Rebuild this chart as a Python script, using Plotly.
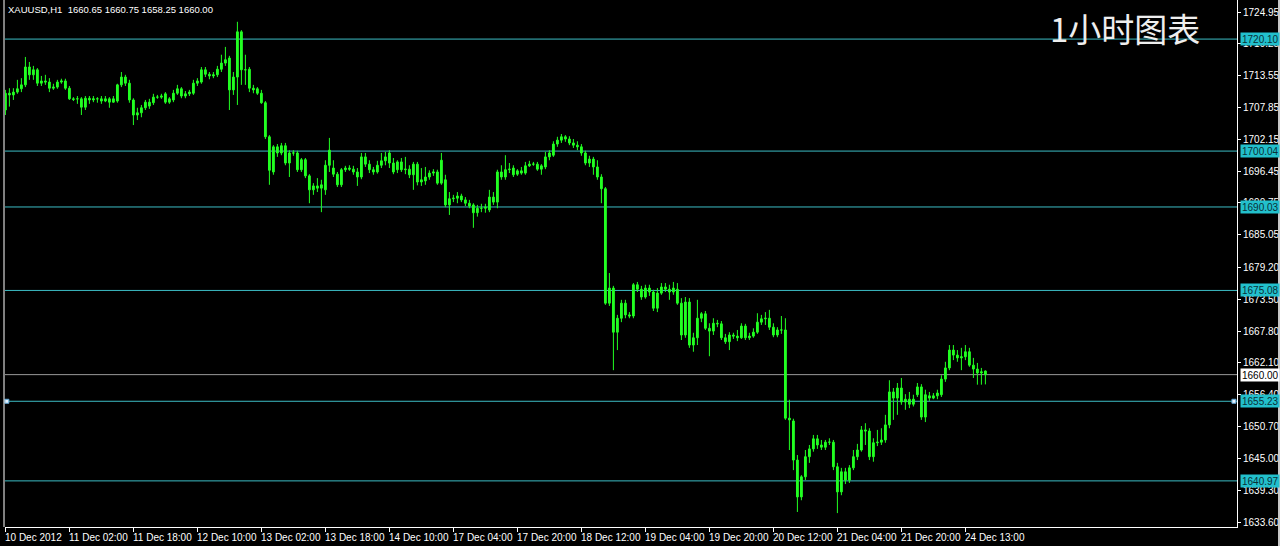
import plotly.graph_objects as go

# ---------------- DATA ----------------
symbol_title = "XAUUSD,H1\u00a0 1660.65 1660.75 1658.25 1660.00"
chart_caption = "1小时图表"

opens = [
    1707.4, 1710.4, 1710.1, 1710.6, 1711.2, 1711.9, 1715.1, 1713.7, 1714.6, 1712.2,
    1712.6, 1712.4, 1711.3, 1711.5, 1712.4, 1712.6, 1711.3, 1709.4, 1709.4, 1709.4,
    1707.9, 1709.5, 1709.2, 1709.4, 1709.4, 1709.0, 1709.4, 1708.8, 1709.0, 1711.9,
    1713.3, 1712.2, 1709.2, 1706.5, 1706.9, 1707.8, 1708.1, 1708.7, 1709.7, 1709.7,
    1710.3, 1708.8, 1709.2, 1710.4, 1711.2, 1709.9, 1710.3, 1710.4, 1712.2, 1712.4,
    1714.6, 1713.8, 1713.5, 1713.7, 1714.7, 1715.8, 1716.7, 1711.0, 1713.3, 1721.4,
    1714.6, 1714.7, 1711.3, 1711.2, 1710.4, 1708.7, 1702.6, 1696.3, 1700.8, 1699.7,
    1701.0, 1697.9, 1699.7, 1699.7, 1696.7, 1698.5, 1695.6, 1693.1, 1693.8, 1693.4,
    1693.1, 1697.5, 1697.0, 1695.9, 1694.0, 1696.7, 1697.0, 1696.8, 1696.3, 1695.4,
    1699.0, 1697.7, 1696.7, 1696.3, 1697.5, 1698.3, 1699.7, 1697.9, 1696.7, 1698.1,
    1696.7, 1696.8, 1695.8, 1697.7, 1694.5, 1694.7, 1695.4, 1696.1, 1696.3, 1694.3,
    1694.9, 1690.4, 1691.5, 1691.6, 1692.0, 1691.3, 1690.7, 1690.4, 1689.0, 1689.8,
    1689.8, 1689.5, 1691.8, 1690.9, 1696.3, 1695.4, 1696.7, 1697.0, 1695.9, 1696.5,
    1696.1, 1697.4, 1697.7, 1697.7, 1696.8, 1697.2, 1699.0, 1699.3, 1701.3, 1702.0,
    1702.6, 1702.2, 1701.5, 1701.1, 1700.8, 1699.7, 1697.9, 1698.6, 1697.2, 1695.4,
    1693.3, 1672.8, 1675.5, 1667.6, 1670.1, 1672.8, 1670.7, 1670.5, 1676.1, 1675.3,
    1673.9, 1675.5, 1674.8, 1671.9, 1674.6, 1675.7, 1675.3, 1674.8, 1675.3, 1672.8,
    1667.1, 1673.0, 1665.3, 1666.6, 1670.1, 1670.9, 1668.3, 1667.8, 1669.2, 1669.1,
    1666.6, 1665.9, 1667.1, 1666.9, 1666.6, 1668.7, 1666.6, 1666.9, 1667.6, 1669.4,
    1670.0, 1670.1, 1668.5, 1667.1, 1668.0, 1668.0, 1652.2, 1651.7, 1644.7, 1638.1,
    1641.7, 1645.3, 1646.7, 1648.5, 1647.4, 1647.0, 1647.9, 1647.9, 1643.5, 1639.0,
    1642.6, 1641.1, 1643.3, 1645.3, 1646.5, 1650.1, 1649.9, 1645.3, 1647.8, 1647.9,
    1648.3, 1651.0, 1656.9, 1655.8, 1657.6, 1655.1, 1655.6, 1654.7, 1656.4, 1657.8,
    1652.4, 1656.2, 1655.8, 1656.2, 1656.4, 1659.2, 1661.2, 1664.4, 1663.5, 1663.0,
    1663.2, 1664.1, 1661.7, 1661.0, 1660.3, 1660.65,
]

highs = [
    1711.0, 1711.3, 1711.3, 1712.8, 1713.1, 1716.9, 1716.0, 1715.3, 1714.9, 1713.5,
    1713.7, 1713.1, 1712.1, 1712.8, 1713.0, 1713.0, 1711.7, 1709.7, 1709.9, 1709.7,
    1709.9, 1709.9, 1709.9, 1709.7, 1709.9, 1709.9, 1709.7, 1709.9, 1712.1, 1714.2,
    1713.7, 1712.8, 1709.5, 1707.8, 1708.3, 1709.2, 1709.4, 1710.3, 1710.1, 1710.3,
    1710.6, 1709.7, 1711.0, 1711.9, 1711.5, 1710.8, 1711.0, 1712.8, 1713.1, 1715.1,
    1715.1, 1714.2, 1714.2, 1715.3, 1717.3, 1718.7, 1717.1, 1714.2, 1723.2, 1721.7,
    1717.3, 1715.1, 1711.9, 1711.5, 1711.0, 1709.0, 1702.9, 1701.1, 1701.3, 1701.5,
    1701.5, 1700.2, 1700.2, 1700.1, 1698.8, 1698.8, 1695.9, 1694.3, 1695.2, 1694.9,
    1698.4, 1702.4, 1698.4, 1696.3, 1697.0, 1697.4, 1697.5, 1697.4, 1697.0, 1699.7,
    1699.7, 1698.4, 1697.2, 1698.3, 1699.7, 1699.9, 1700.2, 1698.8, 1698.4, 1698.8,
    1699.0, 1697.5, 1698.1, 1698.1, 1697.0, 1697.2, 1696.6, 1696.8, 1696.7, 1699.7,
    1695.8, 1692.7, 1692.2, 1692.7, 1692.4, 1691.8, 1691.3, 1690.7, 1690.4, 1690.6,
    1690.6, 1693.1, 1692.7, 1696.7, 1697.5, 1699.3, 1697.9, 1697.5, 1696.8, 1697.2,
    1698.1, 1698.3, 1698.1, 1698.1, 1697.7, 1699.9, 1700.2, 1701.8, 1702.6, 1703.1,
    1702.9, 1702.7, 1702.2, 1701.8, 1701.3, 1700.1, 1699.2, 1699.0, 1698.4, 1695.9,
    1693.6, 1678.2, 1675.9, 1670.7, 1673.4, 1673.4, 1671.2, 1676.4, 1676.6, 1675.9,
    1676.1, 1676.1, 1675.2, 1675.5, 1676.4, 1676.4, 1676.1, 1676.6, 1676.4, 1673.7,
    1673.9, 1673.7, 1667.5, 1673.4, 1671.2, 1671.4, 1669.2, 1670.1, 1669.8, 1669.6,
    1667.3, 1667.6, 1667.5, 1668.0, 1669.2, 1669.1, 1667.5, 1668.3, 1671.0, 1670.7,
    1671.2, 1671.6, 1669.2, 1668.5, 1670.5, 1670.1, 1655.5, 1652.1, 1645.6, 1642.0,
    1646.5, 1647.4, 1649.2, 1649.2, 1648.3, 1648.3, 1648.6, 1648.3, 1644.2, 1643.3,
    1643.3, 1643.8, 1646.5, 1647.6, 1650.8, 1651.3, 1650.4, 1648.6, 1650.1, 1650.4,
    1652.8, 1659.0, 1657.6, 1658.5, 1659.4, 1656.5, 1656.9, 1656.4, 1658.5, 1658.3,
    1657.3, 1656.9, 1656.7, 1657.3, 1659.9, 1662.3, 1665.3, 1665.3, 1664.4, 1664.8,
    1665.3, 1664.8, 1663.0, 1662.1, 1661.2, 1660.75,
]

lows = [
    1706.5, 1708.0, 1709.2, 1710.3, 1710.6, 1711.5, 1712.8, 1712.8, 1711.7, 1711.7,
    1711.9, 1710.6, 1711.0, 1711.2, 1712.1, 1711.0, 1709.2, 1709.0, 1708.5, 1706.5,
    1707.4, 1708.5, 1708.8, 1708.7, 1708.5, 1708.8, 1707.8, 1708.7, 1708.7, 1711.5,
    1711.7, 1708.7, 1704.7, 1705.6, 1706.1, 1707.4, 1707.6, 1708.3, 1709.4, 1709.4,
    1708.5, 1708.5, 1708.8, 1710.1, 1709.5, 1709.5, 1709.9, 1710.1, 1711.7, 1712.1,
    1713.3, 1712.9, 1713.1, 1713.3, 1714.2, 1715.3, 1707.4, 1710.1, 1708.3, 1711.9,
    1711.9, 1710.6, 1710.4, 1710.1, 1708.5, 1702.2, 1694.0, 1695.8, 1699.0, 1699.3,
    1697.5, 1695.4, 1699.2, 1696.3, 1696.3, 1695.2, 1690.7, 1692.2, 1692.7, 1689.1,
    1692.2, 1696.3, 1695.4, 1693.6, 1693.6, 1696.3, 1696.5, 1695.8, 1693.8, 1695.0,
    1697.2, 1696.1, 1695.8, 1696.0, 1697.0, 1697.5, 1697.0, 1695.9, 1696.1, 1696.3,
    1695.9, 1695.2, 1693.1, 1693.9, 1693.8, 1694.0, 1694.9, 1695.6, 1694.0, 1694.0,
    1690.0, 1688.6, 1690.9, 1690.7, 1690.9, 1690.2, 1689.8, 1686.3, 1688.3, 1689.1,
    1689.0, 1689.1, 1690.4, 1689.8, 1694.9, 1694.9, 1696.1, 1695.4, 1695.6, 1695.8,
    1695.8, 1697.2, 1697.4, 1696.5, 1695.8, 1696.8, 1698.4, 1699.0, 1700.8, 1701.5,
    1701.7, 1701.1, 1700.6, 1700.2, 1699.2, 1697.5, 1697.2, 1695.8, 1694.9, 1690.7,
    1672.5, 1672.3, 1660.8, 1664.4, 1669.4, 1670.1, 1670.1, 1670.1, 1674.8, 1673.4,
    1673.6, 1674.1, 1671.4, 1671.2, 1674.3, 1674.8, 1673.4, 1674.3, 1672.5, 1666.2,
    1666.6, 1664.8, 1664.1, 1665.3, 1669.4, 1668.0, 1663.3, 1667.1, 1668.5, 1666.2,
    1665.5, 1664.4, 1666.4, 1666.0, 1666.4, 1666.2, 1666.2, 1666.6, 1667.3, 1668.9,
    1668.9, 1668.0, 1666.7, 1666.7, 1667.3, 1651.9, 1646.5, 1642.9, 1635.4, 1637.5,
    1641.1, 1644.2, 1646.2, 1646.7, 1646.5, 1646.5, 1647.4, 1642.9, 1635.2, 1638.4,
    1640.4, 1640.6, 1642.9, 1644.7, 1646.2, 1647.4, 1644.7, 1644.4, 1647.2, 1647.4,
    1647.8, 1650.4, 1651.9, 1652.8, 1654.6, 1653.7, 1654.0, 1654.3, 1656.0, 1651.9,
    1651.5, 1655.3, 1655.6, 1655.6, 1656.0, 1658.7, 1660.8, 1662.6, 1662.3, 1660.8,
    1662.6, 1661.4, 1659.4, 1658.2, 1658.2, 1658.25,
]

closes = [
    1710.4, 1710.1, 1710.6, 1711.2, 1711.9, 1715.1, 1713.7, 1714.6, 1712.2, 1712.6,
    1712.4, 1711.3, 1711.5, 1712.4, 1712.6, 1711.3, 1709.4, 1709.3, 1709.4, 1707.9,
    1709.5, 1709.2, 1709.4, 1709.4, 1709.0, 1709.4, 1708.8, 1709.4, 1711.9, 1713.3,
    1712.2, 1709.2, 1706.5, 1706.9, 1707.8, 1708.8, 1708.8, 1709.7, 1709.7, 1709.9,
    1708.8, 1709.4, 1710.4, 1711.2, 1709.9, 1710.3, 1710.6, 1712.2, 1712.6, 1714.6,
    1713.8, 1713.5, 1713.7, 1714.7, 1715.8, 1716.4, 1711.0, 1713.3, 1721.4, 1714.6,
    1714.6, 1711.3, 1711.0, 1710.4, 1708.7, 1702.6, 1696.6, 1700.8, 1699.7, 1701.0,
    1697.9, 1699.7, 1699.7, 1696.7, 1698.5, 1695.6, 1693.1, 1693.8, 1693.4, 1694.0,
    1697.5, 1700.2, 1695.9, 1694.0, 1696.7, 1697.0, 1696.8, 1696.3, 1695.4, 1699.0,
    1697.7, 1696.7, 1696.3, 1697.5, 1698.3, 1699.0, 1697.9, 1696.3, 1698.1, 1696.7,
    1696.8, 1695.8, 1697.7, 1694.5, 1694.9, 1695.4, 1696.1, 1696.3, 1694.3, 1698.4,
    1690.4, 1691.5, 1691.6, 1692.0, 1691.3, 1690.7, 1690.2, 1689.0, 1689.8, 1689.8,
    1690.0, 1691.8, 1690.9, 1696.3, 1695.4, 1696.7, 1696.8, 1695.8, 1696.5, 1696.1,
    1697.4, 1697.7, 1697.7, 1696.8, 1697.4, 1699.0, 1699.7, 1701.3, 1702.0, 1702.6,
    1702.2, 1701.5, 1701.1, 1700.8, 1699.7, 1697.9, 1698.6, 1697.2, 1695.4, 1693.3,
    1672.8, 1675.5, 1667.6, 1670.1, 1672.8, 1670.7, 1670.5, 1676.1, 1675.3, 1673.9,
    1675.5, 1674.8, 1671.9, 1674.6, 1675.7, 1675.3, 1674.8, 1675.5, 1672.8, 1667.1,
    1673.0, 1665.3, 1666.6, 1670.1, 1670.9, 1668.3, 1667.8, 1669.2, 1669.1, 1666.6,
    1665.9, 1667.1, 1666.9, 1666.6, 1668.7, 1666.6, 1666.9, 1667.6, 1669.4, 1670.0,
    1670.1, 1668.5, 1667.1, 1668.0, 1668.0, 1652.2, 1651.9, 1644.7, 1638.1, 1641.7,
    1645.3, 1646.7, 1648.5, 1647.4, 1647.0, 1647.9, 1647.9, 1643.5, 1639.0, 1642.6,
    1641.1, 1643.3, 1645.3, 1646.5, 1650.1, 1649.9, 1645.3, 1647.8, 1647.9, 1648.3,
    1651.0, 1656.9, 1655.8, 1657.6, 1655.1, 1655.6, 1654.7, 1655.6, 1657.8, 1652.4,
    1656.4, 1655.8, 1656.2, 1656.7, 1659.2, 1661.2, 1664.4, 1663.5, 1663.0, 1663.2,
    1664.1, 1661.7, 1661.0, 1660.3, 1660.5, 1660.00,
]

bar_index = list(range(len(closes)))

time_label_bars = [0, 16, 32, 48, 64, 80, 96, 112, 128, 144, 160, 176, 192, 208, 224, 240]
time_labels = [
    "10 Dec 2012", "11 Dec 02:00", "11 Dec 18:00", "12 Dec 10:00", "13 Dec 02:00",
    "13 Dec 18:00", "14 Dec 10:00", "17 Dec 04:00", "17 Dec 20:00", "18 Dec 12:00",
    "19 Dec 04:00", "19 Dec 20:00", "20 Dec 12:00", "21 Dec 04:00", "21 Dec 20:00",
    "24 Dec 13:00",
]

price_ticks = [1724.95, 1719.25, 1713.55, 1707.85, 1702.15, 1696.45, 1690.75, 1685.05,
               1679.20, 1673.50, 1667.80, 1662.10, 1656.40, 1650.70, 1645.00, 1639.30,
               1633.60]

level_lines = [1720.10, 1700.04, 1690.03, 1675.08, 1655.23, 1640.97]
bid_level = 1660.00

# ---------------- STYLE ----------------
CANDLE = "#22ff22"
LEVEL = "#3cbcc4"
LEVEL_BOX = "#22c0cc"
FONT = "Liberation Sans"

fig = go.Figure()
fig.add_trace(go.Candlestick(
    x=bar_index, open=opens, high=highs, low=lows, close=closes,
    increasing=dict(line=dict(color=CANDLE, width=1), fillcolor=CANDLE),
    decreasing=dict(line=dict(color=CANDLE, width=1), fillcolor=CANDLE),
    whiskerwidth=0, hoverinfo="skip", showlegend=False,
))

shapes = []
annotations = []

for lv in level_lines:
    shapes.append(dict(type="line", xref="paper", yref="y", x0=0, x1=1, y0=lv, y1=lv,
                       line=dict(color=LEVEL, width=1), layer="below"))
    annotations.append(dict(xref="paper", yref="y", x=1, y=lv, xanchor="left", yanchor="middle",
                            xshift=3, text=f"{lv:.2f}", showarrow=False, bgcolor=LEVEL_BOX,
                            width=36, height=10, borderpad=1, align="left",
                            font=dict(family=FONT, size=10, color="#0a2f36")))

shapes.append(dict(type="line", xref="paper", yref="y", x0=0, x1=1, y0=bid_level, y1=bid_level,
                   line=dict(color="#9a9a9a", width=1), layer="below"))
annotations.append(dict(xref="paper", yref="y", x=1, y=bid_level, xanchor="left", yanchor="middle",
                        xshift=3, text=f"{bid_level:.2f}", showarrow=False, bgcolor="#ffffff",
                        width=36, height=10, borderpad=1, align="left",
                        font=dict(family=FONT, size=10, color="#000000")))

# selection handles on the 1655.23 line
for px in [0.0015, 0.9975]:
    shapes.append(dict(type="rect", xref="paper", yref="y", xsizemode="pixel", ysizemode="pixel",
                       xanchor=px, yanchor=level_lines[4], x0=-2, x1=2, y0=-2, y1=2,
                       fillcolor="#e8f4ff", line=dict(color="#5fa8d8", width=1)))

# left border line of the chart area
shapes.append(dict(type="line", xref="paper", yref="paper", x0=-0.0008, x1=-0.0008, y0=0, y1=1,
                   line=dict(color="#ffffff", width=1)))
# light window edge at the far right
shapes.append(dict(type="line", xref="paper", yref="paper", x0=1.0341, x1=1.0341, y0=-0.037, y1=1,
                   line=dict(color="#c8c8c8", width=2)))

for pos, lab in zip(time_label_bars, time_labels):
    annotations.append(dict(xref="x", yref="paper", x=pos, y=0, xanchor="left", yanchor="top",
                            xshift=-2, yshift=-3, text=lab, showarrow=False,
                            font=dict(family=FONT, size=10, color="#ffffff")))

annotations.append(dict(xref="paper", yref="paper", x=0, y=1, xanchor="left", yanchor="top",
                        xshift=1, yshift=-2, text=symbol_title, showarrow=False,
                        font=dict(family=FONT, size=9.5, color="#ffffff")))

annotations.append(dict(xref="paper", yref="paper", x=0.909, y=0.947, xanchor="center",
                        yanchor="middle", text=chart_caption, showarrow=False,
                        font=dict(family="Noto Sans CJK SC", size=33, color="#eeeeee")))

fig.update_layout(
    width=1280, height=546,
    paper_bgcolor="#000000", plot_bgcolor="#000000",
    margin=dict(l=5, r=43, t=0, b=19),
    boxgap=0.35,
    shapes=shapes, annotations=annotations,
    xaxis=dict(range=[-0.1, 307.9], rangeslider=dict(visible=False), showgrid=False,
               zeroline=False, showline=True, linecolor="#ffffff", linewidth=1,
               ticks="outside", ticklen=4, tickcolor="#ffffff",
               tickvals=time_label_bars, ticktext=[""] * len(time_label_bars),
               fixedrange=True),
    yaxis=dict(range=[1632.71, 1727.10], side="right", showgrid=False, zeroline=False,
               showline=True, linecolor="#ffffff", linewidth=1,
               ticks="outside", ticklen=3, tickcolor="#ffffff",
               tickvals=price_ticks, ticktext=[f"{v:.2f}" for v in price_ticks],
               tickfont=dict(family=FONT, size=10, color="#ffffff"), fixedrange=True),
    font=dict(family=FONT, color="#ffffff"),
)

fig.write_html(
    "out.html",
    config={"displayModeBar": False},
    post_script="document.body.style.margin='0';document.body.style.overflow='hidden';"
                "document.body.style.background='#000';",
)
